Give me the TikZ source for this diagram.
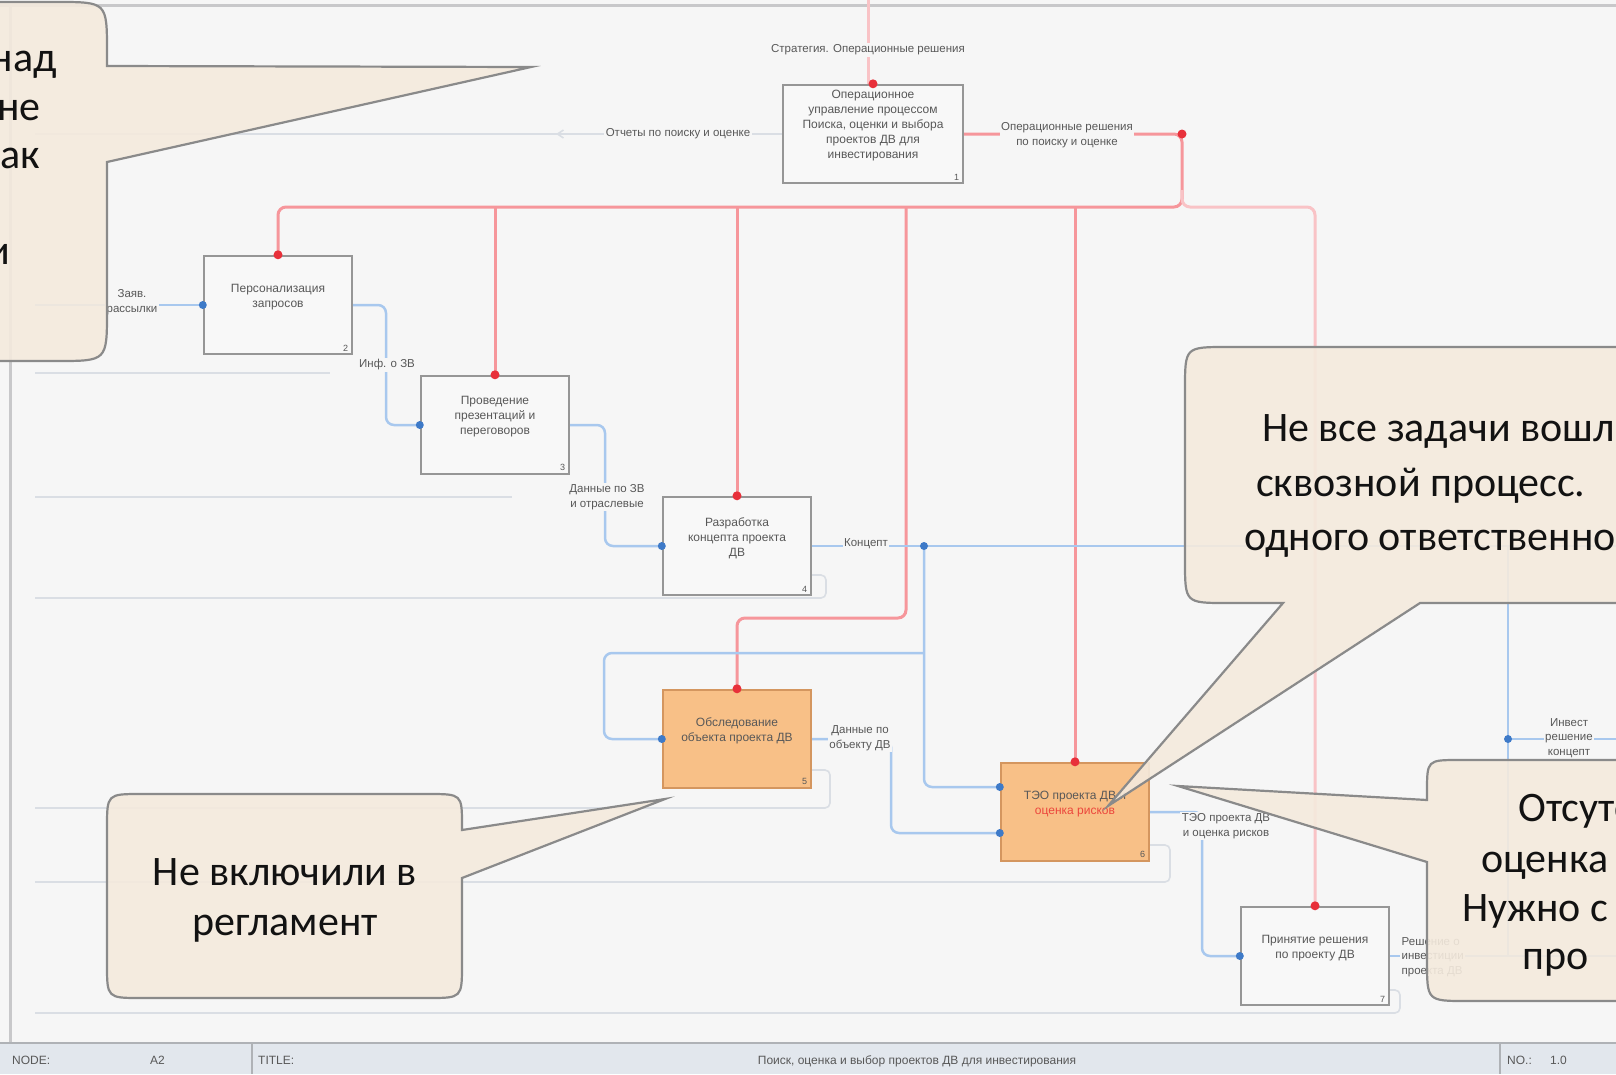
\documentclass[tikz,border=0pt]{standalone}
\usepackage{fontspec}
\setmainfont{Liberation Sans}
\newfontfamily\notefont{Carlito}
\usetikzlibrary{arrows.meta}

\definecolor{paper}{RGB}{246,246,246}
\definecolor{framegray}{RGB}{200,200,202}
\definecolor{ghostgray}{RGB}{218,222,228}
\definecolor{boxline}{RGB}{150,150,150}
\definecolor{boxfill}{RGB}{248,248,248}
\definecolor{hotline}{RGB}{212,150,95}
\definecolor{hotfill}{RGB}{248,192,135}
\definecolor{hotred}{RGB}{236,70,60}
\definecolor{diagtext}{RGB}{88,88,88}
\definecolor{ctrlred}{RGB}{246,150,155}
\definecolor{ctrlpale}{RGB}{249,195,198}
\definecolor{reddot}{RGB}{232,48,58}
\definecolor{flowblue}{RGB}{168,200,238}
\definecolor{bluedot}{RGB}{62,122,200}
\definecolor{barfill}{RGB}{226,231,237}
\definecolor{barline}{RGB}{175,178,182}
\definecolor{notefill}{RGB}{244,234,221}
\definecolor{notegray}{RGB}{138,138,138}
\definecolor{notetextc}{RGB}{18,18,18}

\begin{document}
\begin{tikzpicture}[x=1pt,y=-1pt,
  procbox/.style={draw=boxline, line width=2.4pt, fill=boxfill,
    minimum width=148pt, minimum height=98pt, inner sep=0pt},
  hotbox/.style={procbox, draw=hotline, fill=hotfill},
  boxtext/.style={font=\fontsize{12}{15}\selectfont, text=diagtext, align=center, inner sep=0pt},
  boxnum/.style={font=\fontsize{9}{10}\selectfont, text=diagtext, inner sep=0pt},
  lbl/.style={font=\fontsize{11.5}{14.5}\selectfont, text=diagtext, align=center, fill=paper, inner sep=1.5pt},
  bartext/.style={font=\fontsize{12}{14}\selectfont, text=diagtext, inner sep=0pt},
  ctrl/.style={draw=ctrlred, line width=3pt, rounded corners=8pt},
  ctrlfaint/.style={draw=ctrlpale, line width=3pt, rounded corners=8pt},
  flow/.style={draw=flowblue, line width=2.5pt, rounded corners=8pt},
  ghost/.style={draw=ghostgray, line width=1.6pt, rounded corners=5pt},
  note/.style={draw=notegray, line width=2.2pt, fill=notefill, fill opacity=0.9},
  notetext/.style={font=\notefont\fontsize{42}{50}\selectfont, text=notetextc, inner sep=0pt}
]
\useasboundingbox (0,0) rectangle (1616,1074);
\fill[paper] (0,0) rectangle (1616,1074);
\clip (0,0) rectangle (1616,1074);

% frame of the diagram sheet
\draw[framegray, line width=3pt] (0,5) -- (1616,5);
\draw[framegray, line width=3pt] (10,5) -- (10,1043);

% faint return lines along the left side
\draw[ghost] (35,373) -- (330,373);
\draw[ghost] (35,497) -- (512,497);

% activity boxes
\node[procbox, minimum width=180pt] (top) at (873,134) {};
\node[procbox] (b1) at (278,305) {};
\node[procbox] (b2) at (495,425) {};
\node[procbox] (b3) at (737,546) {};
\node[hotbox]  (b4) at (737,739) {};
\node[hotbox]  (b5) at (1075,812) {};
\node[procbox] (b6) at (1315,956) {};

% free ends and junctions
\coordinate (topin) at (868,0);
\coordinate (rep) at (35,134);
\coordinate (in1) at (35,305);
\coordinate (hub) at (1182,134);
\coordinate (j1) at (924,546);
\coordinate (j2) at (1508,546);
\coordinate (inv) at (1508,739);
\coordinate (outA) at (1616,546);
\coordinate (outB) at (1616,956);
\coordinate (outC) at (1616,739);

% faint return lines from the boxes
\draw[ghost] (top.west) -- (rep);
\draw[ghost] (b3.east |- 0,575) -- (826,575) -- (826,598) -- (35,598);
\draw[ghost] (b4.east |- 0,770) -- (830,770) -- (830,808) -- (35,808);
\draw[ghost] (b5.east |- 0,845) -- (1170,845) -- (1170,882) -- (35,882);
\draw[ghost] (b6.east |- 0,990) -- (1400,990) -- (1400,1013) -- (35,1013);
\draw[ghost, -{Straight Barb[length=6pt,width=8pt]}] (575,134) -- (556,134);

% control arrows (red)
\draw[ctrlfaint] (topin) -- (top.north -| topin);
\draw[ctrl] (top.east) -- (hub) -- (1182,207) -- (278,207) -- (b1.north);
\draw[ctrl] (495,207) -- (b2.north);
\draw[ctrl] (737,207) -- (b3.north);
\draw[ctrl] (906,207) -- (906,618) -- (737,618) -- (b4.north);
\draw[ctrl] (1075,207) -- (b5.north);
\draw[ctrlfaint] (1182,190) -- (1182,207) -- (1315,207) -- (b6.north);

% data flows (blue)
\draw[flow] (in1) -- (b1.west);
\draw[flow] (b1.east) -- (386,305) -- (386,425) -- (b2.west);
\draw[flow] (b2.east) -- (605,425) -- (605,546) -- (b3.west);
\draw[flow] (b3.east) -- (outA);
\draw[flow] (j1) -- (924,787) -- ([yshift=25pt]b5.west);
\draw[flow] (924,653) -- (604,653) -- (604,739) -- (b4.west);
\draw[flow] (b4.east) -- (891,739) -- (891,833) -- ([yshift=-21pt]b5.west);
\draw[flow] (b5.east) -- (1202,812) -- (1202,956) -- (b6.west);
\draw[flow] (b6.east) -- (outB);
\draw[flow] (j2) -- (1508,956);
\draw[flow] (inv) -- (outC);

% arrow ends
\foreach \p in {top.north, b1.north, b2.north, b3.north, b4.north, b5.north, b6.north, hub}
  \fill[reddot] (\p) circle[radius=4.5pt];
\foreach \p in {b1.west, b2.west, b3.west, b4.west, b6.west, j1, inv}
  \fill[bluedot] (\p) circle[radius=4pt];
\fill[bluedot] ([yshift=25pt]b5.west) circle[radius=4pt];
\fill[bluedot] ([yshift=-21pt]b5.west) circle[radius=4pt];

% box texts
\node[boxtext] at ([yshift=8pt]top.center) {Операционное\\управление процессом\\Поиска, оценки и выбора\\проектов ДВ для\\инвестирования};
\node[boxtext] at ([yshift=8pt]b1.center) {Персонализация\\запросов};
\node[boxtext] at ([yshift=8pt]b2.center) {Проведение\\презентаций и\\переговоров};
\node[boxtext] at ([yshift=8pt]b3.center) {Разработка\\концепта проекта\\ДВ};
\node[boxtext] at ([yshift=8pt]b4.center) {Обследование\\объекта проекта ДВ};
\node[boxtext] at ([yshift=8pt]b5.center) {ТЭО проекта ДВ и\\\textcolor{hotred}{оценка рисков}};
\node[boxtext] at ([yshift=8pt]b6.center) {Принятие решения\\по проекту ДВ};
\node[boxnum, anchor=south east] at ([xshift=-5pt,yshift=4pt]top.south east) {1};
\node[boxnum, anchor=south east] at ([xshift=-5pt,yshift=4pt]b1.south east) {2};
\node[boxnum, anchor=south east] at ([xshift=-5pt,yshift=4pt]b2.south east) {3};
\node[boxnum, anchor=south east] at ([xshift=-5pt,yshift=4pt]b3.south east) {4};
\node[boxnum, anchor=south east] at ([xshift=-5pt,yshift=4pt]b4.south east) {5};
\node[boxnum, anchor=south east] at ([xshift=-5pt,yshift=4pt]b5.south east) {6};
\node[boxnum, anchor=south east] at ([xshift=-5pt,yshift=4pt]b6.south east) {7};

% arrow labels
\node[lbl] (l0) at (868,50) {Стратегия. Операционные решения};
\node[lbl] (l1) at (678,134) {Отчеты по поиску и оценке};
\node[lbl] (l2) at (1067,135) {Операционные решения\\по поиску и оценке};
\node[lbl] (l3) at (132,302) {Заяв.\\рассылки};
\node[lbl] (l4) at (387,365) {Инф. о ЗВ};
\node[lbl] (l5) at (607,497) {Данные по ЗВ\\и отраслевые};
\node[lbl] (l6) at (866,544) {Концепт};
\node[lbl] (l7) at (860,738) {Данные по\\объекту ДВ};
\node[lbl] (l8) at (1226,826) {ТЭО проекта ДВ\\и оценка рисков};
\node[lbl, align=left, anchor=west] (l9) at (1400,957) {Решение о\\инвестиции\\проекта ДВ};
\node[lbl] (l10) at (1569,738) {Инвест\\решение\\концепт};

% title bar
\fill[barfill] (0,1043) rectangle (1616,1074);
\draw[barline, line width=2pt] (0,1043) -- (1616,1043);
\draw[barline, line width=1.2pt] (252,1043) -- (252,1074);
\draw[barline, line width=1.2pt] (1500,1043) -- (1500,1074);
\node[bartext, anchor=base west] at (12,1064) {NODE:};
\node[bartext, anchor=base west] at (150,1064) {A2};
\node[bartext, anchor=base west] at (258,1064) {TITLE:};
\node[bartext, anchor=base] at (917,1064) {Поиск, оценка и выбор проектов ДВ для инвестирования};
\node[bartext, anchor=base west] at (1507,1064) {NO.:};
\node[bartext, anchor=base west] at (1550,1064) {1.0};

% comment balloons
\path[note] (107,162) -- (107,311) .. controls (107,361) .. (57,361) -- (-60,361)
  -- (-60,2) -- (57,2) .. controls (107,2) .. (107,52) -- (107,66) -- (531,67) -- cycle;
\path[note] (1283,603) -- (1227,603) .. controls (1185,603) .. (1185,561) -- (1185,389)
  .. controls (1185,347) .. (1227,347) -- (1700,347) -- (1700,603) -- (1420,603) -- (1108,806) -- cycle;
\path[note] (1427,862) -- (1427,961) .. controls (1427,1001) .. (1467,1001) -- (1700,1001)
  -- (1700,760) -- (1459,760) .. controls (1427,760) .. (1427,792) -- (1427,800) -- (1178,786) -- cycle;
\path[note] (462,878) -- (462,964) .. controls (462,998) .. (428,998) -- (141,998)
  .. controls (107,998) .. (107,964) -- (107,828) .. controls (107,794) .. (141,794)
  -- (428,794) .. controls (462,794) .. (462,826) -- (462,830) -- (665,799) -- cycle;

% balloon texts
\node[notetext, anchor=base east] (n1a) at (57,71) {над};
\node[notetext, anchor=base east] (n1b) at (41,120) {не};
\node[notetext, anchor=base east] (n1c) at (40,168) {ак};
\node[notetext, anchor=base east] (n1d) at (10,264) {и};
\node[notetext, anchor=base west] (n2a) at (1262,441) {Не все задачи вошл};
\node[notetext, anchor=base west] (n2b) at (1256,496) {сквозной процесс.};
\node[notetext, anchor=base west] (n2c) at (1244,550) {одного ответственно};
\node[notetext, anchor=base west] (n3a) at (1518,821) {Отсутс};
\node[notetext, anchor=base west] (n3b) at (1481,872) {оценка};
\node[notetext, anchor=base west] (n3c) at (1462,921) {Нужно с};
\node[notetext, anchor=base west] (n3d) at (1522,969) {про};
\node[notetext, anchor=base] (n4a) at (285,885) {Не включили в};
\node[notetext, anchor=base] (n4b) at (285,935) {регламент};
\end{tikzpicture}
\end{document}
